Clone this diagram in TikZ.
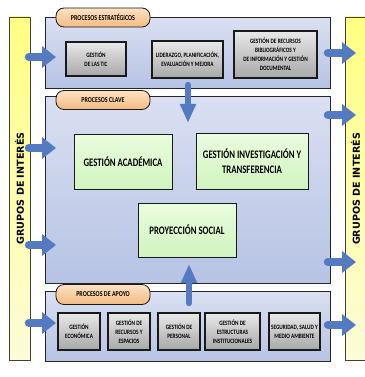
\documentclass[tikz,border=0pt]{standalone}
\usepackage{fontspec}
\usetikzlibrary{arrows.meta}
\newfontfamily\cond[FakeStretch=0.8]{Carlito}
\newfontfamily\condg[FakeStretch=0.76]{Carlito}
\newfontfamily\grpfont{DejaVu Sans}
\definecolor{arrowblue}{RGB}{84,122,194}
\definecolor{panelA}{RGB}{218,224,242}
\definecolor{panelB}{RGB}{182,195,228}
\definecolor{tabA}{RGB}{252,226,196}
\definecolor{tabB}{RGB}{243,186,128}
\definecolor{grayA}{RGB}{232,232,232}
\definecolor{grayB}{RGB}{168,168,168}
\definecolor{greenA}{RGB}{234,252,222}
\definecolor{greenB}{RGB}{208,244,190}
\definecolor{yelA}{RGB}{255,255,130}
\definecolor{yelB}{RGB}{252,252,215}
\tikzset{
  panel/.style={draw=black!85, line width=0.9pt, top color=panelA, bottom color=panelB, anchor=north west, inner sep=0pt},
  tab/.style={draw=black!90, line width=0.8pt, rounded corners=8pt, top color=tabA, bottom color=tabB, font=\cond\bfseries\fontsize{7.5}{8.5}\selectfont, inner sep=0pt},
  graybox/.style={draw=black!90, line width=1.1pt, top color=grayA, bottom color=grayB, align=center, inner sep=1pt, font=\cond\bfseries\fontsize{6.6}{9}\selectfont},
  greenbox/.style={draw=black!90, line width=1pt, top color=greenA, bottom color=greenB, align=center, inner sep=2pt, font=\condg\bfseries\fontsize{11.5}{15}\selectfont},
  bar/.style={draw=black!75, line width=0.8pt, top color=yelA, bottom color=yelB, inner sep=0pt},
  grp/.style={rotate=90, font=\grpfont\bfseries\fontsize{9.6}{11}\selectfont, inner sep=0pt},
  harrow/.style={arrowblue, line width=8.5pt, line cap=round, -{Triangle[length=14pt,width=21pt]}},
  varrow/.style={arrowblue, line width=6.5pt, line cap=round, -{Triangle[length=19pt,width=15pt]}}
}
\begin{document}
\begin{tikzpicture}[x=1pt,y=-1pt]
\useasboundingbox (0,0) rectangle (364,377);
\fill[white] (0,0) rectangle (364,377);
% side bars
\node[bar, minimum width=21pt, minimum height=343pt] (lbar) at (19.5,188.5) {};
\node[bar, minimum width=21pt, minimum height=343pt] (rbar) at (355.5,188.5) {};
\node[grp] (lgrp) at (19.5,188.5) {GRUPOS DE INTERÉS};
\node[grp] (rgrp) at (355.5,189) {GRUPOS DE INTERÉS};
% panels
\node[panel, minimum width=285pt, minimum height=71pt] (strat) at (45,17) {};
\node[panel, minimum width=285pt, minimum height=187pt] (clave) at (45,96) {};
\node[panel, minimum width=285pt, minimum height=70pt] (apoyo) at (45,291) {};
% tabs
\node[tab, minimum width=94pt, minimum height=19pt] (tstrat) at (103,17.5) {PROCESOS ESTRATÉGICOS};
\node[tab, minimum width=94pt, minimum height=19pt] (tclave) at (103,100) {PROCESOS CLAVE};
\node[tab, minimum width=94pt, minimum height=20pt] (tapoyo) at (103,294.5) {PROCESOS DE APOYO};
% strategic boxes
\node[graybox, minimum width=60pt, minimum height=34pt] (tic) at (96,59) {GESTIÓN\\DE LAS TIC};
\node[graybox, minimum width=71pt, minimum height=37pt] (lid) at (187.5,59.5) {LIDERAZGO, PLANIFICACIÓN,\\EVALUACIÓN Y MEJORA};
\node[graybox, minimum width=83pt, minimum height=47pt] (rec) at (275.5,54.5) {GESTIÓN DE RECURSOS\\BIBLIOGRÁFICOS Y\\DE INFORMACIÓN Y GESTIÓN\\DOCUMENTAL};
% key boxes
\node[greenbox, minimum width=98pt, minimum height=55pt] (acad) at (123,161.5) {GESTIÓN ACADÉMICA};
\node[greenbox, minimum width=112pt, minimum height=56pt] (inv) at (252,161) {GESTIÓN INVESTIGACIÓN Y\\TRANSFERENCIA};
\node[greenbox, minimum width=98pt, minimum height=54pt] (proy) at (187,230) {PROYECCIÓN SOCIAL};
% support boxes
\node[graybox, minimum width=42pt, minimum height=37pt] (eco) at (79,331.5) {GESTIÓN\\ECONÓMICA};
\node[graybox, minimum width=42pt, minimum height=37pt] (esp) at (129,331.5) {GESTIÓN DE\\RECURSOS Y\\ESPACIOS};
\node[graybox, minimum width=42pt, minimum height=37pt] (per) at (179,331.5) {GESTIÓN DE\\PERSONAL};
\node[graybox, minimum width=55pt, minimum height=37pt] (est) at (232.5,331.5) {GESTIÓN DE\\ESTRUCTURAS\\INSTITUCIONALES};
\node[graybox, minimum width=51pt, minimum height=37pt] (seg) at (294.5,331.5) {SEGURIDAD, SALUD Y\\MEDIO AMBIENTE};
% arrow end points
\coordinate (l1a) at (29,57);  \coordinate (l1b) at (56,57);
\coordinate (l2a) at (29,148); \coordinate (l2b) at (56,148);
\coordinate (l3a) at (29,245); \coordinate (l3b) at (56,245);
\coordinate (l4a) at (29,323); \coordinate (l4b) at (56,323);
\coordinate (r1a) at (328,53);  \coordinate (r1b) at (356,53);
\coordinate (r2a) at (328,115); \coordinate (r2b) at (356,115);
\coordinate (r3a) at (328,262); \coordinate (r3b) at (356,262);
\coordinate (r4a) at (328,325); \coordinate (r4b) at (356,325);
\coordinate (da) at (188,85);  \coordinate (db) at (188,123);
\coordinate (ua) at (189,303); \coordinate (ub) at (189,264);
% arrows
\foreach \s in {l1,l2,l3,l4,r1,r2,r3,r4} \draw[harrow] (\s a) -- (\s b);
\draw[varrow] (da) -- (db);
\draw[varrow] (ua) -- (ub);
\end{tikzpicture}
\end{document}
